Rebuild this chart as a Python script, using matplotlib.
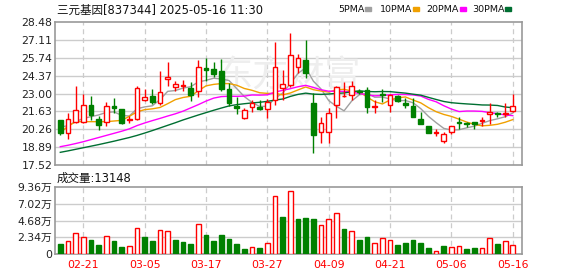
import numpy as np
import pandas as pd
import matplotlib
matplotlib.use('Agg')
import matplotlib.pyplot as plt

plt.rcParams['font.family'] = ['DejaVu Sans', 'Noto Sans CJK SC']

# trading days shown (2025)
dates = ['02-18', '02-19', '02-20', '02-21', '02-24', '02-25', '02-26', '02-27', '02-28', '03-03',
         '03-04', '03-05', '03-06', '03-07', '03-10', '03-11', '03-12', '03-13', '03-14', '03-17',
         '03-18', '03-19', '03-20', '03-21', '03-24', '03-25', '03-26', '03-27', '03-28', '03-31',
         '04-01', '04-02', '04-03', '04-07', '04-08', '04-09', '04-10', '04-11', '04-14', '04-15',
         '04-16', '04-17', '04-18', '04-21', '04-22', '04-23', '04-24', '04-25', '04-28', '04-29',
         '04-30', '05-06', '05-07', '05-08', '05-09', '05-12', '05-13', '05-14', '05-15', '05-16']

opens = [20.98, 19.96, 20.85, 20.83, 22.10, 21.06, 20.83, 22.05, 21.79, 20.98,
         21.08, 22.50, 22.81, 22.25, 24.08, 23.50, 23.55, 23.39, 23.22, 24.97,
         24.87, 24.72, 23.34, 22.05, 21.16, 21.95, 21.97, 21.82, 22.50, 23.39,
         23.65, 24.99, 25.56, 22.25, 20.09, 20.09, 22.12, 22.78, 22.89, 23.22,
         23.27, 21.95, 22.94, 22.13, 22.83, 22.25, 22.04, 21.05, 20.51, 19.97,
         19.36, 20.03, 20.84, 20.74, 20.79, 20.91, 21.43, 21.54, 21.43, 21.67]
highs = [21.00, 21.49, 23.57, 22.96, 22.81, 21.29, 22.35, 22.63, 21.84, 21.31,
         23.57, 23.34, 23.34, 24.72, 25.40, 23.98, 24.03, 23.85, 25.56, 25.68,
         25.38, 25.63, 23.83, 22.71, 21.92, 22.50, 22.50, 22.56, 26.95, 24.79,
         27.59, 26.01, 27.08, 23.01, 21.18, 21.87, 23.57, 23.90, 23.98, 23.34,
         23.47, 22.50, 23.31, 22.94, 22.89, 22.68, 22.68, 21.56, 20.51, 20.27,
         20.08, 20.54, 21.17, 20.84, 20.79, 21.17, 22.25, 21.62, 22.25, 22.99]
lows = [19.81, 19.56, 20.72, 20.78, 20.98, 20.22, 20.52, 21.49, 20.70, 20.78,
        20.98, 22.40, 22.20, 22.15, 23.57, 23.22, 23.19, 22.45, 22.71, 23.96,
        24.23, 23.22, 22.05, 21.46, 21.03, 21.62, 21.74, 21.16, 22.12, 22.50,
        23.52, 24.54, 24.16, 18.49, 19.20, 19.20, 21.11, 22.76, 22.50, 22.96,
        21.54, 21.54, 22.38, 21.62, 22.38, 21.92, 21.17, 20.64, 19.95, 19.77,
        19.23, 19.90, 20.28, 20.41, 20.28, 20.54, 20.64, 21.17, 21.17, 21.62]
closes = [19.96, 21.03, 21.74, 22.10, 21.34, 20.60, 22.02, 21.92, 20.78, 21.08,
          23.39, 22.71, 22.35, 23.14, 24.23, 23.70, 23.65, 22.86, 24.99, 24.82,
          24.51, 23.34, 22.30, 21.92, 21.74, 22.30, 21.79, 22.38, 24.99, 23.70,
          25.94, 25.68, 24.54, 19.84, 20.73, 21.49, 23.52, 22.81, 23.60, 23.11,
          22.00, 22.05, 22.87, 22.89, 22.42, 22.10, 21.17, 20.64, 19.95, 20.03,
          19.90, 20.54, 20.74, 20.70, 20.66, 20.99, 21.56, 21.43, 21.49, 22.08]
# volume in 万 shares
volumes = [1.43, 1.80, 2.90, 2.40, 1.98, 1.29, 2.54, 1.84, 1.01, 1.15,
           3.64, 2.40, 1.84, 3.32, 3.18, 1.98, 1.71, 1.43, 4.15, 2.67,
           1.84, 2.67, 2.12, 1.43, 0.74, 0.97, 0.88, 1.57, 8.02, 5.16,
           8.71, 4.89, 5.03, 4.89, 4.01, 4.89, 5.67, 3.50, 3.18, 1.98,
           2.40, 1.57, 2.21, 1.94, 1.29, 1.57, 1.98, 1.57, 0.88, 0.41,
           1.15, 0.97, 1.15, 0.74, 0.88, 0.88, 2.26, 1.43, 1.84, 1.31]

# moving average values before a full window exists
ma5_head = [20.42, 20.55, 20.85, 21.10]
ma10_head = [20.01, 20.50, 20.85, 20.85, 20.85, 20.85, 20.85, 20.90, 20.95]
ma20_head = [18.94, 19.05, 19.18, 19.32, 19.48, 19.64, 19.80, 19.96, 20.12, 20.30,
             20.55, 20.75, 20.93, 21.10, 21.28, 21.45, 21.65, 21.90, 22.15]
ma30_head = [18.51, 18.62, 18.74, 18.86, 18.98, 19.10, 19.23, 19.36, 19.50, 19.64,
             19.80, 19.98, 20.17, 20.37, 20.57, 20.77, 20.98, 21.17, 21.36, 21.54,
             21.72, 21.89, 22.05, 22.15, 22.22, 22.28, 22.33, 22.40, 22.50]

price_ticks = [17.52, 18.89, 20.26, 21.63, 23.00, 24.37, 25.74, 27.11, 28.48]
vol_ticks = [0, 2.34, 4.68, 7.02, 9.36]

df = pd.DataFrame({'open': opens, 'high': highs, 'low': lows, 'close': closes, 'vol': volumes})
x = np.arange(len(df))

ma_heads = {5: ma5_head, 10: ma10_head, 20: ma20_head, 30: ma30_head}
ma_colors = {5: '#a0a0a0', 10: '#f0a000', 20: '#ff00ff', 30: '#006f32'}
for n, head in ma_heads.items():
    ma = df['close'].rolling(n).mean()
    ma.iloc[:n - 1] = head
    df['ma%d' % n] = ma

RED = '#ff0000'
GREEN = '#008000'
up = df['close'] >= df['open']
vol_up = df['close'] >= df['close'].shift(1)
vol_up.iloc[0] = up.iloc[0]

fig = plt.figure(figsize=(5.78, 2.76), dpi=100)
W, H = 578, 276
ax = fig.add_axes([55 / W, 1 - 165.3 / H, 467 / W, 143.6 / H])
axv = fig.add_axes([55 / W, 1 - 254.3 / H, 467 / W, 67.6 / H])

tick_idx = list(range(3, len(dates), 8))

for a in (ax, axv):
    a.set_xlim(-0.69, 60.2)
    for s in a.spines.values():
        s.set_color('#999999')
        s.set_linewidth(1.2)
    a.tick_params(length=0, labelsize=7.8, pad=2, colors='#222222')
    for i in tick_idx:
        a.axvline(i, color='#cccccc', linestyle=(0, (4, 3)), linewidth=0.9, zorder=0)

# price panel
ax.set_ylim(17.52, 28.48)
ax.set_yticks(price_ticks)
ax.set_yticklabels(['%.2f' % t for t in price_ticks])
ax.set_xticks([])
for t in price_ticks[1:-1]:
    ax.axhline(t, color='#cccccc', linewidth=1, zorder=0)

ax.text(300 / 578 * 0 + 0.5, 0.62, '东方财富', transform=ax.transAxes, fontsize=26,
        color='#eeeeee', ha='center', va='center', style='italic',
        family=['Noto Sans CJK SC'], zorder=0)

w = 0.62
for i in x:
    o, h, l, c = df.loc[i, ['open', 'high', 'low', 'close']]
    col = RED if up[i] else GREEN
    ax.vlines(i, l, h, color=col, linewidth=1, zorder=3)
    body = max(abs(c - o), 0.03)
    ax.bar(i, body, bottom=min(o, c), width=w,
           facecolor='white' if up[i] else col, edgecolor=col, linewidth=1, zorder=4)

for n in (5, 10, 20, 30):
    ax.plot(x, df['ma%d' % n], color=ma_colors[n], linewidth=1, zorder=2)

# volume panel
axv.set_ylim(0, 9.36)
axv.set_yticks(vol_ticks)
axv.set_yticklabels(['0'] + ['%.2f万' % t for t in vol_ticks[1:]])
for t in vol_ticks[1:-1]:
    axv.axhline(t, color='#cccccc', linewidth=1, zorder=0)
for i in x:
    col = RED if vol_up[i] else GREEN
    axv.bar(i, df.loc[i, 'vol'], width=w, facecolor='white' if vol_up[i] else col,
            edgecolor=col, linewidth=1, zorder=3)
axv.set_xticks(tick_idx)
axv.set_xticklabels([dates[i] for i in tick_idx], color=RED, fontsize=7.8)
axv.tick_params(axis='x', pad=4)

# header texts
fig.text(57 / W, 1 - 10 / H, '三元基因[837344] 2025-05-16 11:30', fontsize=8.3,
         va='center', ha='left', color='#111111')
fig.text(57 / W, 1 - 178 / H, '成交量:13148', fontsize=8.3, va='center', ha='left', color='#111111')

legend_items = [('5PMA', 338, 365, 5), ('10PMA', 380, 413, 10),
                ('20PMA', 426, 460, 20), ('30PMA', 472, 505, 30)]
for label, tx, sx, n in legend_items:
    fig.text(tx / W, 1 - 9 / H, label, fontsize=6.8, va='center', ha='left', color='#111111')
    fig.patches.append(plt.Rectangle((sx / W, 1 - 11 / H), 6 / W, 4 / H,
                                     transform=fig.transFigure, color=ma_colors[n]))

fig.savefig('out.png', dpi=100)
